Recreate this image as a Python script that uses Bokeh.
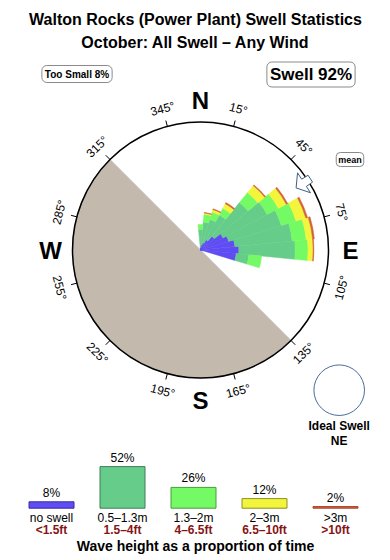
import numpy as np
from bokeh.plotting import figure
from bokeh.models import Range1d, Label
from bokeh.core.properties import value
from bokeh.embed import file_html
from bokeh.resources import INLINE

# ---------------- data ----------------
title_line1 = "Walton Rocks (Power Plant) Swell Statistics"
title_line2 = "October: All Swell \u2013 Any Wind"
too_small_pct = 8
swell_pct = 92

# direction bins (degrees, clockwise from north), 32-point rose
dir_bins = [0, 11.25, 22.5, 33.75, 45, 56.25, 67.5, 78.75, 90, 101.25]
# band lengths per bin, in % of the rose radius
band_no_swell = [2, 4, 6, 9, 14, 20, 23, 27, 30, 28]
band_05_13 = [14, 18, 19, 22, 34, 39, 43, 45, 44, 10]
band_13_20 = [4, 6, 6, 6, 10, 10, 12, 11, 10, 10]
band_20_30 = [0, 1, 2, 4, 7, 7, 8, 5, 4, 0]
band_30_up = [0, 0.4, 0.6, 1, 0.8, 1.2, 1.4, 1.4, 0.6, 0]

band_names = ["no swell", "0.5\u20131.3m", "1.3\u20132m", "2\u20133m", ">3m"]
band_feet = ["<1.5ft", "1.5\u20134ft", "4\u20136.5ft", "6.5\u201310ft", ">10ft"]
band_pcts = [8, 52, 26, 12, 2]
band_colors = ["#5f4cf2", "#66cc8a", "#74fa64", "#f2f53c", "#d4603a"]
band_edges = ["#3a2ca8", "#3f7f58", "#4a9a40", "#8f8f22", "#a8452a"]

tick_bearings = [15, 45, 75, 105, 135, 165, 195, 225, 255, 285, 315, 345]
tick_labels = ["15\u00b0", "45\u00b0", "75\u00b0", "105\u00b0", "135\u00b0", "165\u00b0",
               "195\u00b0", "225\u00b0", "255\u00b0", "285\u00b0", "315\u00b0", "345\u00b0"]
compass_letters = ["N", "E", "S", "W"]
compass_bearings = [0, 90, 180, 270]
land_from, land_to = 135, 315
mean_dir = 57
ideal_dir = "NE"
axis_caption = "Wave height as a proportion of time"

# ---------------- layout ----------------
W, H = 390, 560
FONT = value("Liberation Sans")


def up(y):
    return H - y


p = figure(width=W, height=H, x_range=Range1d(0, W), y_range=Range1d(0, H),
           output_backend="svg", toolbar_location=None, min_border=0)
p.axis.visible = False
p.grid.visible = False
p.outline_line_color = None
p.background_fill_color = "white"

cx, cy, R = 200, up(249.5), 128
scale = R / 100.0


def pol(b, r):
    a = np.radians(90 - np.asarray(b, dtype=float))
    return cx + r * np.cos(a), cy + r * np.sin(a)


# land sector
p.wedge(x=[cx], y=[cy], radius=R,
        start_angle=np.radians(90 - land_to), end_angle=np.radians(90 - land_from),
        fill_color="#c4b9ad", line_color="#b0b6bc", line_width=0.8)

# rose wedges
half = 11.25 / 2
bands = [band_no_swell, band_05_13, band_13_20, band_20_30, band_30_up]
cum = np.zeros(len(dir_bins))
for k, band in enumerate(bands):
    band = np.asarray(band, dtype=float)
    inner = cum.copy()
    outer = cum + band
    m = band > 0
    b = np.asarray(dir_bins)[m]
    p.annular_wedge(x=cx, y=cy, inner_radius=inner[m] * scale, outer_radius=outer[m] * scale,
                    start_angle=np.radians(90 - (b + half)), end_angle=np.radians(90 - (b - half)),
                    fill_color=band_colors[k], line_color=band_colors[k], line_width=0.5)
    cum = outer

# circle
p.circle(x=[cx], y=[cy], radius=R, fill_color=None, line_color="black", line_width=1.5)

# ticks
x0, y0 = pol(tick_bearings, R)
x1, y1 = pol(tick_bearings, R + 6)
p.segment(x0=x0, y0=y0, x1=x1, y1=y1, line_color="black", line_width=1)

# tick labels
tb = np.asarray(tick_bearings, dtype=float)
rot = np.where((tb > 90) & (tb < 270), 180 - tb, -tb)
rot = (rot + 180) % 360 - 180
lx, ly = pol(tick_bearings, R + 18)
p.text(x=lx, y=ly, text=tick_labels, angle=np.radians(rot), text_align="center",
       text_baseline="middle", text_font=FONT, text_font_size="12px", text_color="black")

# compass letters
clx, cly = pol(compass_bearings, R + 22)
p.text(x=clx, y=cly, text=compass_letters, text_align="center", text_baseline="middle",
       text_font=FONT, text_font_size="24px", text_font_style="bold", text_color="black")

# mean direction arrow
arrow_pts = [(114, 0), (124, -5.5), (123.5, -2), (131, -1.8), (131, 1.8), (123.5, 2), (124, 5.5)]
ax, ay = [], []
for r, db in arrow_pts:
    xx, yy = pol(mean_dir + db, r)
    ax.append(float(xx)); ay.append(float(yy))
p.patch(x=ax, y=ay, fill_color="white", line_color="#3d5f86", line_width=1)

# title
p.text(x=[W / 2, W / 2], y=[up(19), up(42)], text=[title_line1, title_line2],
       text_align="center", text_baseline="middle", text_font=FONT,
       text_font_size="16px", text_font_style="bold", text_color="black")

# boxed labels
p.add_layout(Label(x=76.5, y=up(73.5), text=f"Too Small {too_small_pct}%", text_align="center",
                   text_baseline="middle", text_font="Liberation Sans", text_font_size="10px",
                   text_font_style="bold", text_color="black",
                   border_line_color="#8a8a8a", border_line_width=1,
                   border_radius=5, padding=3, background_fill_color="white"))
p.add_layout(Label(x=310.5, y=up(74), text=f"Swell {swell_pct}%", text_align="center",
                   text_baseline="middle", text_font="Liberation Sans", text_font_size="17px",
                   text_font_style="bold", text_color="black",
                   border_line_color="#8a8a8a", border_line_width=1,
                   border_radius=5, padding=3, background_fill_color="white"))
p.add_layout(Label(x=349.5, y=up(159), text="mean", text_align="center",
                   text_baseline="middle", text_font="Liberation Sans", text_font_size="9px",
                   text_font_style="bold", text_color="black",
                   border_line_color="#8a8a8a", border_line_width=1,
                   border_radius=4, padding=2, background_fill_color="white"))

# ideal swell
p.circle(x=[338.7], y=[up(389.7)], radius=25.3, fill_color=None, line_color="#4a6c9b", line_width=1)
p.text(x=[338.7, 338.7], y=[up(425), up(440)], text=["Ideal Swell", ideal_dir],
       text_align="center", text_baseline="middle", text_font=FONT,
       text_font_size="12px", text_font_style="bold", text_color="black")

# legend bars
centers = [51 + 71 * i for i in range(len(band_pcts))]
base = up(507.7)
tops = [base + v * 0.8 for v in band_pcts]
p.vbar(x=centers, bottom=base, top=tops, width=45, fill_color=band_colors,
       line_color=band_edges, line_width=1)
p.text(x=centers, y=[t + 9 for t in tops], text=[f"{v}%" for v in band_pcts],
       text_align="center", text_baseline="middle", text_font=FONT,
       text_font_size="12px", text_color="black")
p.text(x=centers, y=[up(517.5)] * len(centers), text=band_names,
       text_align="center", text_baseline="middle", text_font=FONT,
       text_font_size="12px", text_color="black")
p.text(x=centers, y=[up(529.5)] * len(centers), text=band_feet,
       text_align="center", text_baseline="middle", text_font=FONT,
       text_font_size="12px", text_font_style="bold", text_color="#851515")
p.text(x=[195], y=[up(545)], text=[axis_caption],
       text_align="center", text_baseline="middle", text_font=FONT,
       text_font_size="14px", text_font_style="bold", text_color="black")

open("out.html", "w").write(file_html(p, INLINE))
